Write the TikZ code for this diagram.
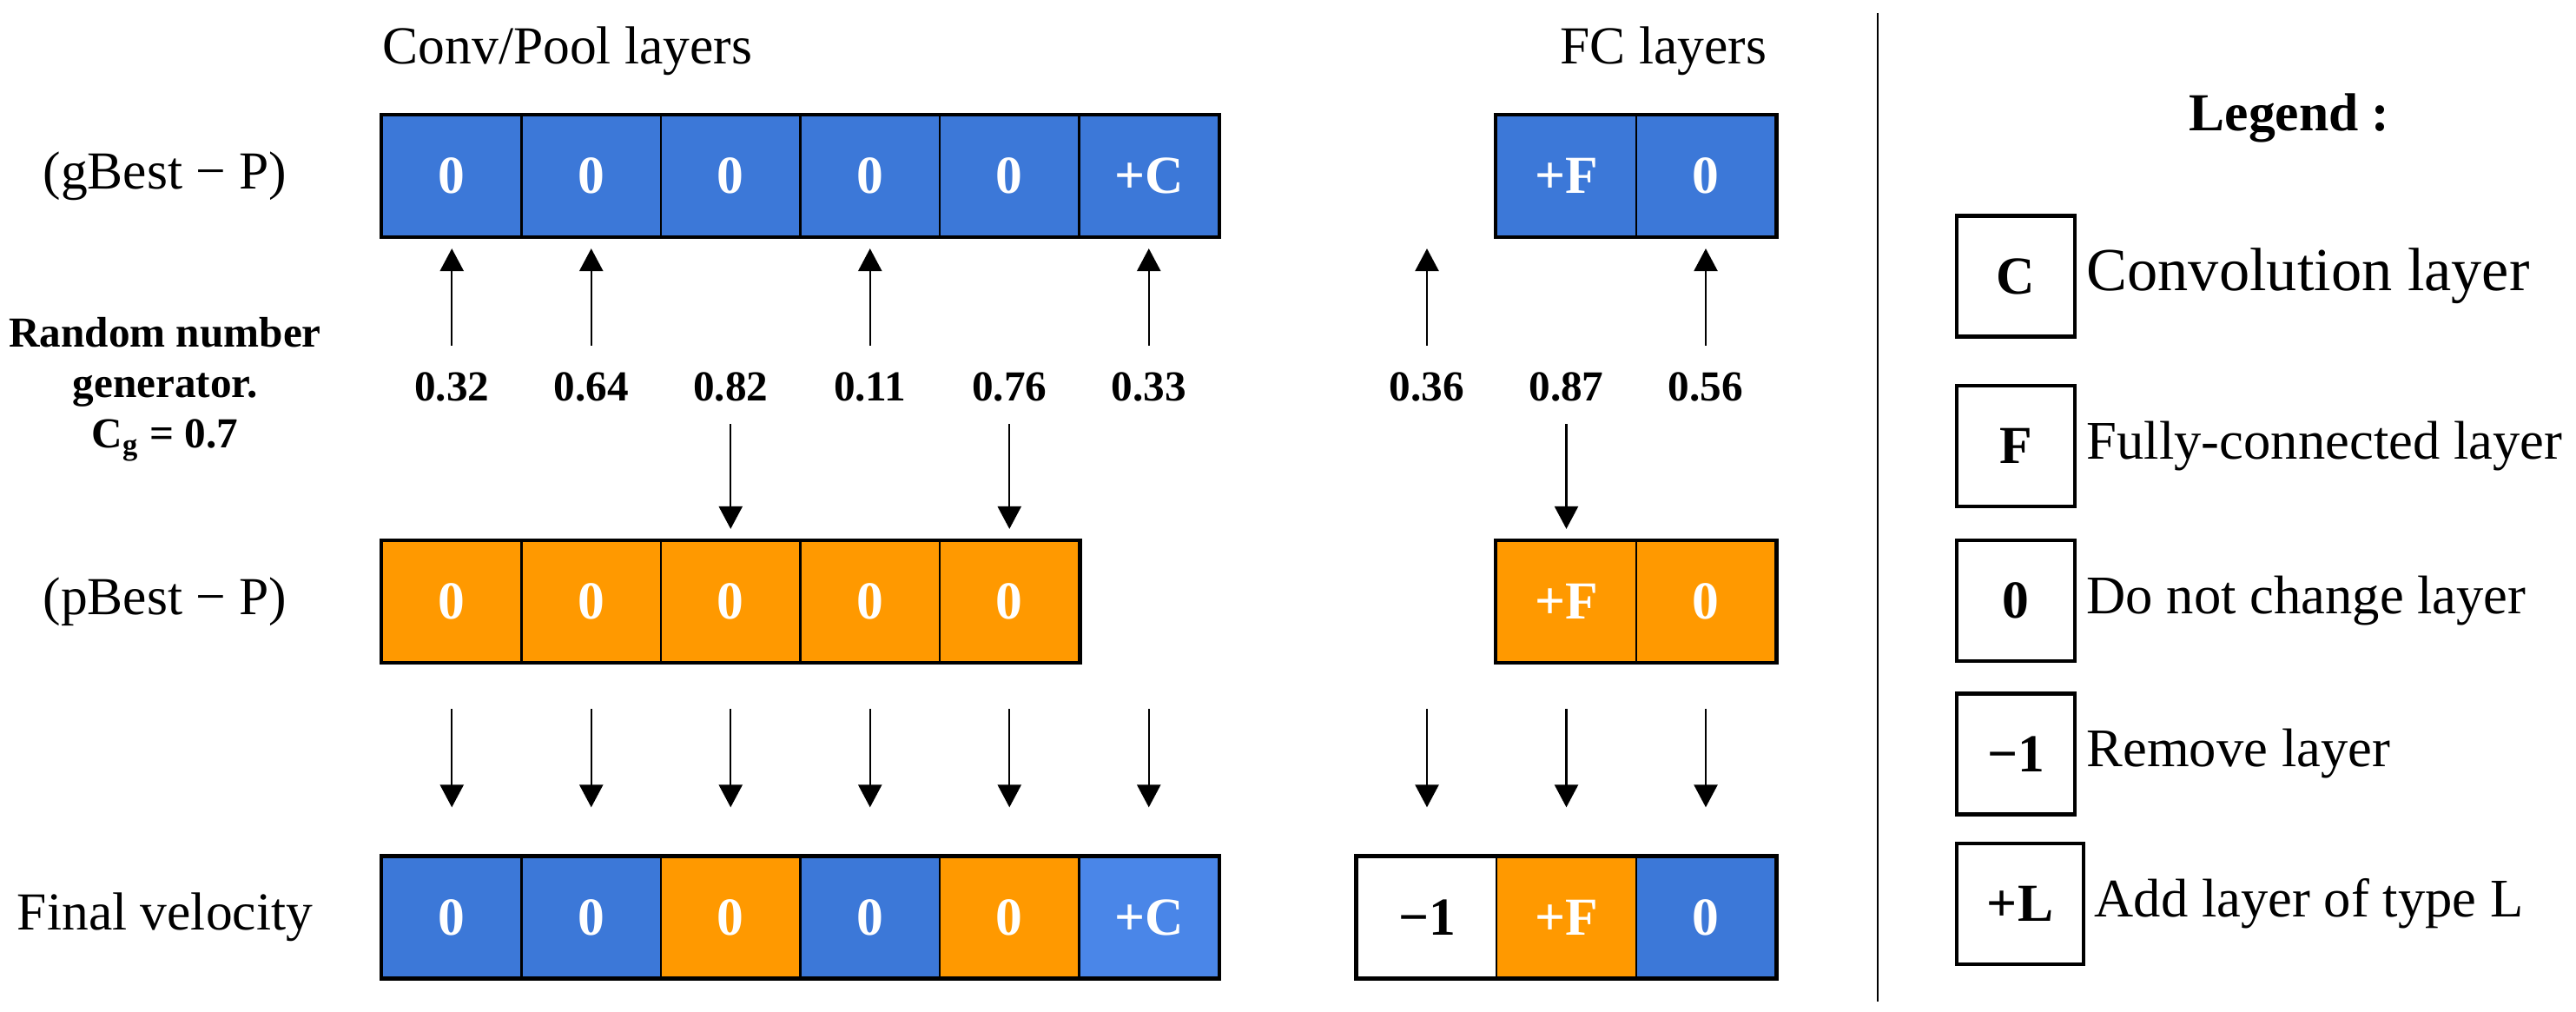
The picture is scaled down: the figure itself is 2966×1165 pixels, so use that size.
\documentclass[tikz,border=0pt]{standalone}
\usepackage{fontspec}
\setmainfont{Liberation Serif}
\usetikzlibrary{arrows.meta}
\definecolor{gblue}{RGB}{60,120,216}
\definecolor{gorange}{RGB}{255,153,0}
\definecolor{lblue}{RGB}{74,134,232}
\tikzset{
  cell/.style={draw=black, line width=0.6pt, minimum width=1.605cm, minimum height=1.39cm,
    inner sep=0pt, text=white, font=\fontsize{17.5}{21}\selectfont\bfseries},
  cb/.style={cell, fill=gblue},
  co/.style={cell, fill=gorange},
  cl/.style={cell, fill=lblue},
  cw/.style={cell, fill=white, text=black},
  frame/.style={draw=black, line width=1.3pt},
  num/.style={anchor=base, inner sep=0pt, font=\fontsize{14}{17}\selectfont\bfseries},
  rowlab/.style={font=\fontsize{17.5}{21}\selectfont},
  arr/.style={line width=0.7pt, -{Triangle[length=0.26cm,width=0.27cm]}},
  legbox/.style={draw=black, line width=1.2pt, minimum width=1.36cm, minimum height=1.39cm,
    inner sep=0pt, font=\fontsize{17.5}{21}\selectfont\bfseries},
  legtxt/.style={anchor=west, inner sep=0pt, font=\fontsize{17.8}{21}\selectfont},
}
\begin{document}
\begin{tikzpicture}[x=0.01cm, y=-0.01cm]
\useasboundingbox (0,0) rectangle (2966,1165);

% headers
\node[rowlab, anchor=base west, inner sep=0pt] (hconv) at (440,74) {Conv/Pool layers};
\node[rowlab, anchor=base east, inner sep=0pt] (hfc) at (2035,74) {FC layers};

% row labels
\node[rowlab] (lg) at (190,203) {(gBest − P)};
\node[rowlab] (lp) at (190,693) {(pBest − P)};
\node[rowlab] (lf) at (190,1056) {Final velocity};
\node[align=center, anchor=base, inner sep=0pt, font=\fontsize{14}{16.5}\selectfont\bfseries] (rng) at (190,516)
  {Random number\\generator.\\C\textsubscript{g} = 0.7};

% gBest - P row
\node[cb] (g1) at (520.25,202.5) {0};
\node[cb] (g2) at (680.75,202.5) {0};
\node[cb] (g3) at (841.25,202.5) {0};
\node[cb] (g4) at (1001.75,202.5) {0};
\node[cb] (g5) at (1162.25,202.5) {0};
\node[cb] (g6) at (1322.75,202.5) {+C};
\draw[frame] (g1.north west) rectangle (g6.south east);
\node[cb] (g8) at (1803.5,202.5) {+F};
\node[cb] (g9) at (1964,202.5) {0};
\draw[frame] (g8.north west) rectangle (g9.south east);

% pBest - P row
\node[co] (p1) at (520.25,692.5) {0};
\node[co] (p2) at (680.75,692.5) {0};
\node[co] (p3) at (841.25,692.5) {0};
\node[co] (p4) at (1001.75,692.5) {0};
\node[co] (p5) at (1162.25,692.5) {0};
\draw[frame] (p1.north west) rectangle (p5.south east);
\node[co] (p8) at (1803.5,692.5) {+F};
\node[co] (p9) at (1964,692.5) {0};
\draw[frame] (p8.north west) rectangle (p9.south east);

% final velocity row
\node[cb] (f1) at (520.25,1056) {0};
\node[cb] (f2) at (680.75,1056) {0};
\node[co] (f3) at (841.25,1056) {0};
\node[cb] (f4) at (1001.75,1056) {0};
\node[co] (f5) at (1162.25,1056) {0};
\node[cl] (f6) at (1322.75,1056) {+C};
\draw[frame] (f1.north west) rectangle (f6.south east);
\node[cw] (f7) at (1643,1056) {−1};
\node[co] (f8) at (1803.5,1056) {+F};
\node[cb] (f9) at (1964,1056) {0};
\draw[frame] (f7.north west) rectangle (f9.south east);

% random numbers
\node[num] (r1) at (520.25,462) {0.32};
\node[num] (r2) at (680.75,462) {0.64};
\node[num] (r3) at (841.25,462) {0.82};
\node[num] (r4) at (1001.75,462) {0.11};
\node[num] (r5) at (1162.25,462) {0.76};
\node[num] (r6) at (1322.75,462) {0.33};
\node[num] (r7) at (1643,462) {0.36};
\node[num] (r8) at (1803.5,462) {0.87};
\node[num] (r9) at (1964,462) {0.56};

% up arrows (number < Cg)
\coordinate (g7) at (f7.north |- g9.south);
\foreach \r/\c in {r1/g1, r2/g2, r4/g4, r6/g6, r9/g9}
  \draw[arr] ([yshift=0.31cm]\r.north) -- ([yshift=-0.13cm]\c.south);
\draw[arr] ([yshift=0.31cm]r7.north) -- ([yshift=-0.13cm]g7);

% down arrows (number > Cg)
\foreach \r/\c in {r3/p3, r5/p5, r8/p8}
  \draw[arr] ([yshift=-0.26cm]\r.base) -- ([yshift=0.13cm]\c.north);

% arrows to final velocity
\foreach \c in {f1,f2,f3,f4,f5,f6,f7,f8,f9}
  \draw[arr] ([yshift=1.69cm]\c.north) -- ([yshift=0.56cm]\c.north);

% divider
\coordinate (dtop) at (2162,15);
\coordinate (dbot) at (2162,1153);
\draw[line width=0.6pt] (dtop) -- (dbot);

% legend
\node[font=\fontsize{17.5}{21}\selectfont\bfseries] (leg) at (2636,136) {Legend :};
\node[legbox] (kc) at (2321,318) {C};
\node[legbox] (kf) at (2321,513.5) {F};
\node[legbox] (k0) at (2321,691.5) {0};
\node[legbox] (km) at (2321,868) {−1};
\node[legbox, minimum width=1.46cm] (kl) at (2326,1040.5) {+L};
\node[legtxt, font=\fontsize{20}{24}\selectfont] (tc) at (2402,318) {Convolution layer};
\node[legtxt] (tf) at (2402,513.5) {Fully-connected layer};
\node[legtxt] (t0) at (2402,691.5) {Do not change layer};
\node[legtxt] (tm) at (2402,868) {Remove layer};
\node[legtxt] (tl) at (2411,1040.5) {Add layer of type L};
\end{tikzpicture}
\end{document}
